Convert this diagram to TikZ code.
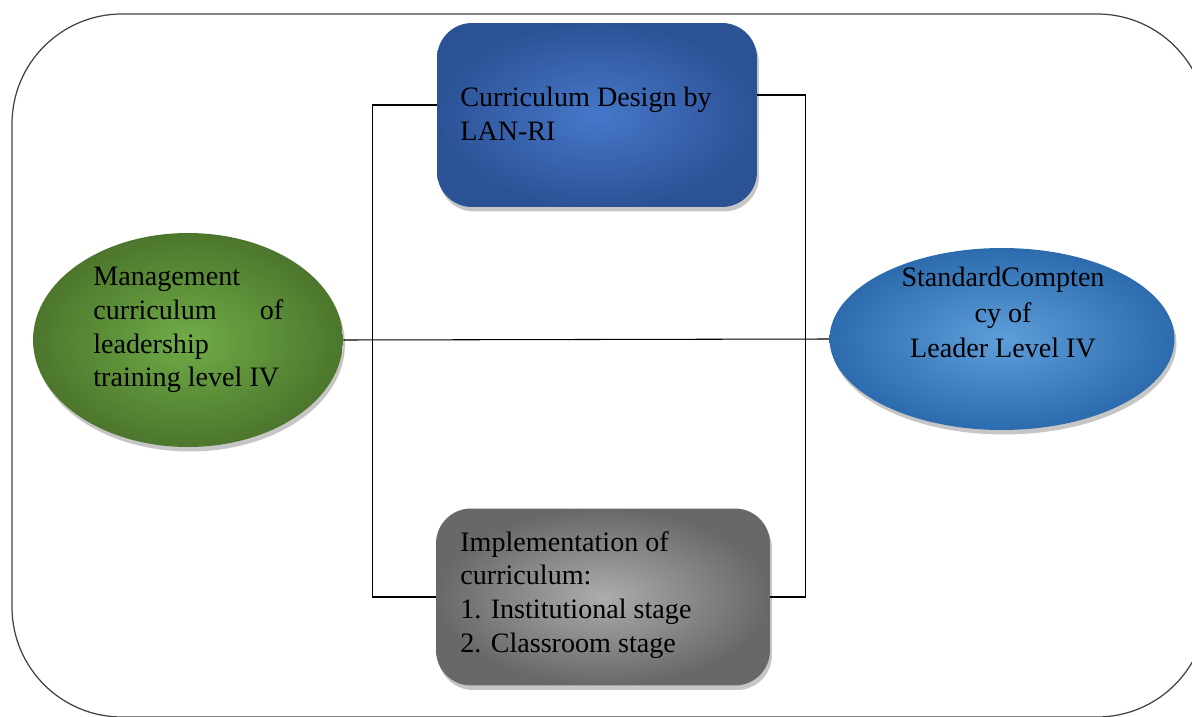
\documentclass[tikz,border=0pt]{standalone}
\usepackage{fontspec}
\setmainfont{Liberation Serif}
\usepackage[usenames,dvipsnames]{xcolor}
\usepackage{tikz}
\usetikzlibrary{shapes.geometric,shadows}

\definecolor{designOut}{RGB}{44,82,150}
\definecolor{designIn}{RGB}{70,120,202}
\definecolor{implOut}{RGB}{104,104,104}
\definecolor{implIn}{RGB}{172,172,172}
\definecolor{mgmtOut}{RGB}{76,118,44}
\definecolor{mgmtIn}{RGB}{112,172,72}
\definecolor{stdOut}{RGB}{44,108,174}
\definecolor{stdIn}{RGB}{94,158,218}

\begin{document}
\begin{tikzpicture}[x=0.02cm,y=-0.02cm,
  box/.style={rounded corners=0.7cm, inner sep=0pt, shade,
    drop shadow={opacity=0.45,shadow xshift=0.4mm,shadow yshift=-0.9mm}},
  oval/.style={ellipse, inner sep=0pt, shade,
    drop shadow={opacity=0.45,shadow xshift=0.4mm,shadow yshift=-0.9mm}},
  lbl/.style={inner sep=0pt, font=\fontsize{16}{19.2}\selectfont},
  link/.style={\cLine, line width=0.6pt}]
\def\cLine{black}
\def\cFrame{black!75}
\useasboundingbox (0,0) rectangle (1192,716);
\clip (0,0) rectangle (1192,716);
\draw[\cFrame, line width=0.7pt, rounded corners=2.2cm] (12,14) rectangle (1207,717);
\node[box, inner color=designIn, outer color=designOut, minimum width=6.4cm, minimum height=3.68cm] (design) at (597,115) {};
\node[box, inner color=implIn, outer color=implOut, minimum width=6.68cm, minimum height=3.54cm] (impl) at (603,597) {};
\node[oval, inner color=mgmtIn, outer color=mgmtOut, minimum width=6.2cm, minimum height=4.28cm] (mgmt) at (188,340) {};
\node[oval, inner color=stdIn, outer color=stdOut, minimum width=6.9cm, minimum height=3.64cm] (std) at (1002,339) {};
\node[lbl, align=left, anchor=north west] (designTxt) at (460,87) {Curriculum Design by\\LAN-RI};
\node[lbl, align=left, anchor=north west] (implTxt) at (460,531) {Implementation of\\curriculum:\\1. Institutional stage\\2. Classroom stage};
\node[lbl, align=left, anchor=north west] (mgmtTxt) at (93,267) {Management\\\makebox[3.8cm][s]{curriculum\hfill of}\\leadership\\training level IV};
\node[lbl, align=center, anchor=north, font=\fontsize{16}{20.2}\selectfont] (stdTxt) at (1003,267) {StandardCompten\\cy of\\Leader Level IV};
\draw[link] (mgmt.east) -- (std.west);
\draw[link] ([yshift=2mm]design.west) -- ++(-64,0) |- (impl.west);
\draw[link] ([yshift=4mm]design.east) -- ++(48,0) |- (impl.east);
\end{tikzpicture}
\end{document}
